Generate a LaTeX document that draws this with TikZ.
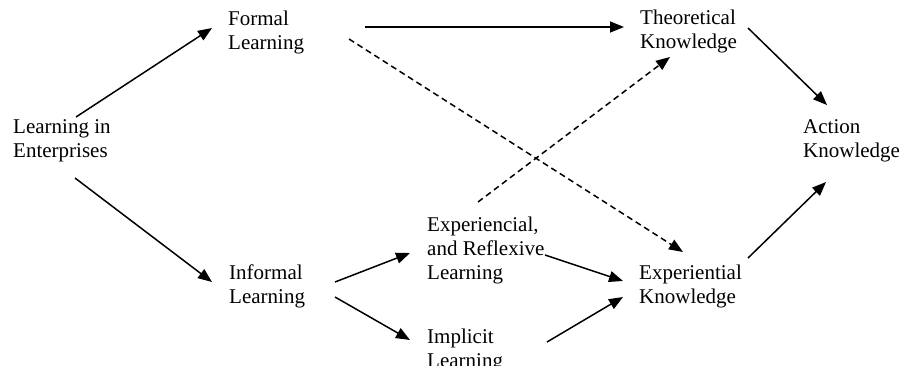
\documentclass[tikz,border=0pt]{standalone}
\usepackage{fontspec}
\setmainfont{Liberation Serif}
\usetikzlibrary{arrows.meta}
\begin{document}
\begin{tikzpicture}[x=1pt,y=-1pt,
	lbl/.style={anchor=base west,inner sep=0pt,align=left,font=\fontsize{21}{23.7}\selectfont},
	arr/.style={line width=1.5pt,-{Triangle[length=14pt,width=11pt]}},
	dsh/.style={arr,dash pattern=on 6pt off 4pt}]
	\useasboundingbox (0,0) rectangle (902,365);
	% labels, placed at the baseline of their last line
	\node[lbl] (le) at (13,157) {Learning in\\Enterprises};
	\node[lbl] (fl) at (228,49) {Formal\\Learning};
	\node[lbl] (tk) at (640,48) {Theoretical\\Knowledge};
	\node[lbl] (ak) at (803,157) {Action\\Knowledge};
	\node[lbl] (il) at (229,303) {Informal\\Learning};
	\node[lbl] (erl) at (427,279) {Experiencial,\\and Reflexive\\Learning};
	\node[lbl] (ipl) at (427,367) {Implicit\\Learning};
	\node[lbl] (ek) at (639,303) {Experiential\\Knowledge};
	% solid arrows
	\draw[arr] ([shift={(63,-40)}]le.base west) -- ([shift={(-16,-21)}]fl.base west);
	\draw[arr] ([shift={(62,21)}]le.base west) -- ([shift={(-17,-21)}]il.base west);
	\draw[arr] ([shift={(137,-22)}]fl.base west) -- ([shift={(-16,-21)}]tk.base west);
	\draw[arr] ([shift={(108,-20)}]tk.base west) -- ([shift={(24,-52)}]ak.base west);
	\draw[arr] ([shift={(109,-45)}]ek.base west) -- ([shift={(23,25)}]ak.base west);
	\draw[arr] ([shift={(106,-21)}]il.base west) -- ([shift={(-17,-26)}]erl.base west);
	\draw[arr] ([shift={(106,-6)}]il.base west) -- ([shift={(-17,-27)}]ipl.base west);
	\draw[arr] ([shift={(118,-24)}]erl.base west) -- ([shift={(-16,-22)}]ek.base west);
	\draw[arr] ([shift={(120,-25)}]ipl.base west) -- ([shift={(-16,-6)}]ek.base west);
	% dashed arrows
	\draw[dsh] ([shift={(121,-10)}]fl.base west) -- ([shift={(44,-51)}]ek.base west);
	\draw[dsh] ([shift={(51,-77)}]erl.base west) -- ([shift={(30,9)}]tk.base west);
\end{tikzpicture}
\end{document}
